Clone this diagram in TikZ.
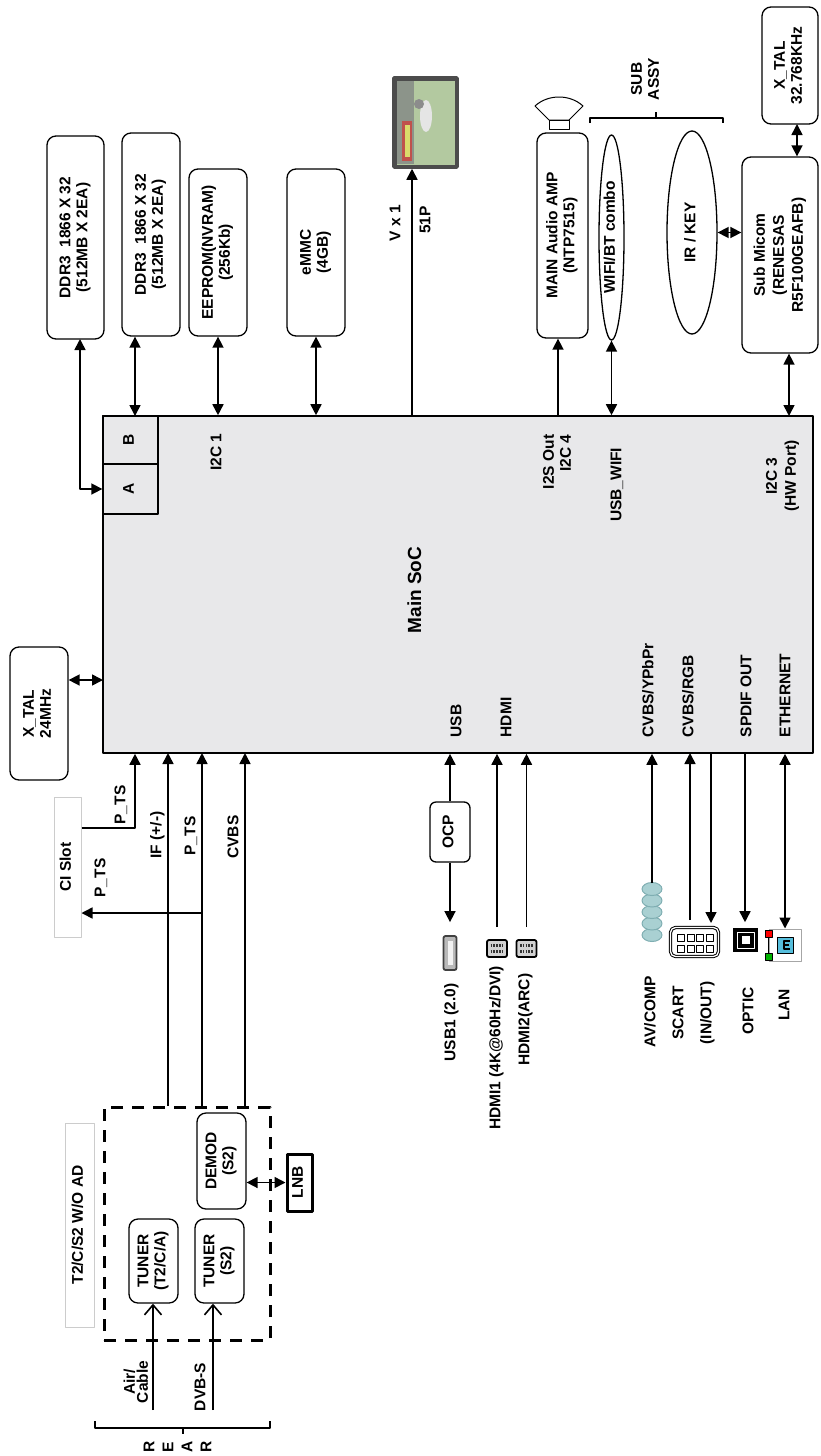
\documentclass[tikz,border=0pt]{standalone}
\usepackage{graphicx}
\usepackage{fontspec}
\setmainfont{Liberation Sans}
\usetikzlibrary{arrows.meta,shapes.geometric}
\definecolor{socgray}{HTML}{E8E8EA}
\definecolor{avfill}{HTML}{A9D0D2}
\definecolor{avedge}{HTML}{7FAEB2}
\definecolor{lanblue}{HTML}{56BEDC}
\definecolor{tvfield}{HTML}{B3C9A0}
\definecolor{tvstand}{HTML}{8C948A}
\newcommand\vtext[2][c]{\rotatebox{90}{\begin{tabular}{@{}#1@{}}#2\end{tabular}}}
\begin{document}
\begin{tikzpicture}[x=1pt,y=-1pt,line join=round,line width=1.6pt,
	font=\fontsize{15.5}{17}\selectfont\bfseries,
	>={Triangle[length=11pt,width=11pt]},
	wh/.style 2 args={minimum width=#1,minimum height=#2},
	blk/.style={draw,line width=1.3pt,rounded corners=9pt,inner sep=0pt},
	ovalbox/.style={draw,ellipse,line width=1.3pt,inner sep=0pt},
	pale/.style={draw=gray!40,line width=1pt,inner sep=0pt},
	lbl/.style={inner sep=0pt},
	barb/.style={-{Straight Barb[length=10pt,width=17pt]}}]
	\useasboundingbox (0,0) rectangle (820,1456);
	% main soc
	\node[draw,fill=socgray,line width=1.6pt,wh={710}{337},inner sep=0pt] (soc) at (458,584.5) {};
	\node[draw,fill=socgray,line width=1.3pt,wh={55}{48},inner sep=0pt] (boxB) at (130.5,440) {\vtext{B}};
	\node[draw,fill=socgray,line width=1.3pt,wh={55}{50},inner sep=0pt] (boxA) at (130.5,489) {\vtext{A}};
	\node[lbl,font=\fontsize{19}{21}\selectfont\bfseries] (socname) at (417,590) {\vtext{Main SoC}};
	\node[lbl,anchor=north] (i2c1) at (218,433) {\vtext{I2C 1}};
	\node[lbl,anchor=north] (i2s) at (559,434) {\vtext[r]{I2S Out\\I2C 4}};
	\node[lbl,anchor=north] (usbwifi) at (618,447) {\vtext{USB\_WIFI}};
	\node[lbl] (i2c3) at (783,476) {\vtext{I2C 3\\[2pt](HW Port)}};
	\node[lbl,anchor=south] (pusb) at (458,738) {\vtext{USB}};
	\node[lbl,anchor=south] (phdmi) at (508,738) {\vtext{HDMI}};
	\node[lbl,anchor=south] (pcvbsa) at (650,738) {\vtext{CVBS/YPbPr}};
	\node[lbl,anchor=south] (pcvbsb) at (690,738) {\vtext{CVBS/RGB}};
	\node[lbl,anchor=south] (pspdif) at (748,738) {\vtext{SPDIF OUT}};
	\node[lbl,anchor=south] (peth) at (787,738) {\vtext{ETHERNET}};
	% top side
	\node[blk,wh={57}{203}] (ddrA) at (75.5,237.5) {\vtext{DDR3\ \ 1866 X 32\\(512MB X 2EA)}};
	\node[blk,wh={58}{203}] (ddrB) at (151,234.5) {\vtext{DDR3\ \ 1866 X 32\\(512MB X 2EA)}};
	\node[blk,wh={58}{167}] (eeprom) at (218,252.5) {\vtext{EEPROM(NVRAM)\\(256Kb)}};
	\node[blk,wh={58}{167}] (emmc) at (316,252.5) {\vtext{eMMC\\(4GB)}};
	\node[draw=black!70,fill=tvfield,line width=3.5pt,wh={63}{89},inner sep=0pt] (tv) at (425.5,122.5) {};
	\fill[tvstand] (397,80) rectangle (414,164);
	\fill[white!80!gray] (426,116) ellipse [x radius=6pt,y radius=16pt];
	\fill[black!45] (419,104) circle [radius=5pt];
	\fill[red!45!tvstand] (402,121) rectangle (412,161);
	\fill[yellow!45!tvfield] (404.5,125) rectangle (409.5,157);
	\draw[black!70,line width=3.5pt] (394.75,78.75) rectangle (456.25,166.25);
	\node[blk,wh={51}{205}] (amp) at (562.5,235.5) {\vtext{MAIN Audio AMP\\(NTP7515)}};
	\node[ovalbox,wh={25}{205}] (wifi) at (611.5,237.5) {\vtext{WIFI/BT combo}};
	\node[ovalbox,wh={50}{203}] (irkey) at (692,232.5) {\vtext{IR / KEY}};
	\node[blk,wh={76}{196},font=\fontsize{15.5}{19}\selectfont\bfseries] (micom) at (780,255) {\vtext{Sub Micom\\(RENESAS\\R5F100GEAFB)}};
	\node[blk,wh={56}{117}] (xtalsub) at (790,65.5) {\vtext{X\_TAL\\32.768KHz}};
	\node[lbl] (lvx) at (397,223) {\vtext{V x 1}};
	\node[lbl] (l51p) at (427,220) {\vtext{51P}};
	\node[lbl] (lsub) at (647,79) {\vtext{SUB\\ASSY}};
	% speaker
	\draw[line width=1pt,fill=white] (549,120) -- (535,106) .. controls (548,94) and (570,94) .. (583,106) -- (569,120) -- cycle;
	\draw[line width=1pt] (549,120) rectangle (569,129);
	% sub assy bracket
	\draw[line width=1.2pt] (590,123) -- (590,118) -- (723,118) -- (723,123) (656,118) -- (656,112);
	% left side
	\node[blk,wh={58}{133}] (xtalm) at (39,713.5) {\vtext{X\_TAL\\24MHz}};
	\node[pale,wh={27}{140}] (cislot) at (67.5,867) {\vtext{CI Slot}};
	\node[draw,line width=3pt,dash pattern=on 12pt off 9pt,wh={166}{233},inner sep=0pt] (tunerpk) at (187,1223.5) {};
	\node[pale,wh={29}{204}] (t2lbl) at (79.5,1225) {\vtext{T2/C/S2 W/O AD}};
	\node[blk,wh={49}{84}] (tunerA) at (153.5,1261) {\vtext{TUNER\\(T2/C/A)}};
	\node[blk,wh={49}{84}] (tunerB) at (219.5,1261) {\vtext{TUNER\\(S2)}};
	\node[blk,wh={49}{96}] (demod) at (221.5,1161) {\vtext{DEMOD\\(S2)}};
	\node[draw,line width=3pt,wh={25}{57},inner sep=0pt] (lnb) at (299.5,1182.5) {\vtext{LNB}};
	\node[lbl] (lptsA) at (122,805) {\vtext{P\_TS}};
	\node[lbl] (lif) at (158,835) {\vtext{IF (+/-)}};
	\node[lbl] (lptsB) at (192,836) {\vtext{P\_TS}};
	\node[lbl] (lcvbs) at (235,837) {\vtext{CVBS}};
	\node[lbl] (lptsC) at (102,878) {\vtext{P\_TS}};
	\node[lbl] (lair) at (138,1382) {\vtext{Air/\\[-4pt]Cable}};
	\node[lbl] (ldvbs) at (202,1387) {\vtext{DVB-S}};
	% rear bracket
	\draw[line width=1.2pt] (95,1421) -- (95,1428) -- (270,1428) -- (270,1421) (183,1428) -- (183,1434);
	\foreach \c [count=\k] in {R,E,A,R}
	\node[lbl] (rear\k) at (132+19*\k,1447) {\vtext{\c}};
	% bottom side
	\node[blk,rounded corners=6pt,wh={40}{60}] (ocp) at (450,832) {\vtext{OCP}};
	\node[draw=black!75,fill=gray!55,line width=1.8pt,rounded corners=2pt,wh={13}{34},inner sep=0pt] (usbport) at (450,953) {};
	\fill[gray!10] (447.5,941) rectangle (452.5,965);
	\node[draw,fill=gray!35,line width=1.8pt,rounded corners=2pt,wh={20}{17},inner sep=0pt] (hdmiA) at (497,948.5) {};
	\node[draw,fill=gray!35,line width=1.8pt,rounded corners=2pt,wh={20}{17},inner sep=0pt] (hdmiB) at (526.5,948.5) {};
	\foreach \x in {497,526.5}
	\draw[black!80,line width=2.2pt,dash pattern=on 1.6pt off 1.2pt] (\x-6.5,945.5) -- (\x+6.5,945.5) (\x-6.5,951.5) -- (\x+6.5,951.5);
	\foreach \k in {4,3,2,1,0}
	\draw[draw=avedge,fill=avfill,line width=1pt] (652,889+11.5*\k) ellipse [x radius=10pt,y radius=6.5pt];
	\coordinate (avjack) at (652,883);
	\node[draw,line width=1pt,rounded corners=5pt,double,double distance=1.3pt,wh={48}{29},inner sep=0pt] (scart) at (694.5,942) {};
	\foreach \i in {0,...,3}
	\foreach \j in {0,1}
	\draw[line width=0.9pt] (677.5+9.5*\i,934+11*\j) rectangle ++(7,7);
	\node[fill=black,wh={25}{24},inner sep=0pt] (optic) at (745.5,940) {};
	\draw[white,line width=0.8pt] (737,932) rectangle (754,948);
	\fill[white] (741.5,936) rectangle (749.5,944);
	\node[draw=gray!70,fill=white,line width=1pt,wh={32}{32},inner sep=0pt] (lan) at (785,945) {};
	\draw[line width=1pt,fill=lanblue] (777,937) rectangle (793,953);
	\draw[line width=1.5pt] (790,941) -- (784,941) -- (784,949) -- (790,949) (784,945) -- (789,945);
	\draw[line width=1pt] (768.5,937) -- (768.5,953);
	\draw[line width=0.6pt,fill=red] (765,930) rectangle (772,937);
	\draw[line width=0.6pt,fill=green!70!black] (765,953) rectangle (772,960);
	\node[lbl,anchor=north] (lusb1) at (452,983) {\vtext{USB1 (2.0)}};
	\node[lbl,anchor=north] (lhdmi1) at (497,965) {\vtext{HDMI1 (4K@60Hz/DVI)}};
	\node[lbl,anchor=north] (lhdmi2) at (526,973) {\vtext{HDMI2(ARC)}};
	\node[lbl] (lav) at (652,1012) {\vtext{AV/COMP}};
	\node[lbl] (lscart) at (694,1013) {\vtext{SCART\\[11pt](IN/OUT)}};
	\node[lbl] (loptic) at (750,1011) {\vtext{OPTIC}};
	\node[lbl] (llan) at (786,1005) {\vtext{LAN}};
	% ports
	\coordinate (dap) at (80,339);
	\coordinate (ddrp) at (135,416);
	\coordinate (tvp) at (412,416);
	\coordinate (ampp) at (558,416);
	\coordinate (i2c3p) at (789,416);
	\coordinate (xtp) at (797,124);
	\coordinate (xtm) at (103,680);
	\coordinate (cib) at (135,828);
	\coordinate (ifp) at (168,753);
	\coordinate (tsp) at (202,753);
	\coordinate (tsb) at (202,913);
	\coordinate (cvp) at (245,753);
	\coordinate (aircable) at (153,1410);
	\coordinate (dvbs) at (213,1410);
	\coordinate (scin) at (690,753);
	\coordinate (scout) at (711,753);
	\coordinate (optp) at (745,753);
	% connectors
	\draw[<->] (dap) |- (boxA.west);
	\draw[<->] (ddrp) -- (ddrp |- ddrB.south);
	\draw[<->] (eeprom.south) -- (eeprom.south |- soc.north);
	\draw[<->] (emmc.south) -- (emmc.south |- soc.north);
	\draw[->] (tvp) -- (tvp |- tv.south);
	\draw[->] (ampp) -- (ampp |- amp.south);
	\draw[<->] (wifi.south) -- (wifi.south |- soc.north);
	\draw[<->] (irkey.east) -- (irkey.east -| micom.west);
	\draw[<->] (xtp) -- (xtp |- micom.north);
	\draw[<->] (i2c3p) -- (i2c3p |- micom.south);
	\draw[<->] (xtm -| xtalm.east) -- (xtm);
	\draw[->] (cib -| cislot.east) -- (cib) -- (cib |- soc.south);
	\draw[->] (ifp |- tunerpk.north) -- (ifp);
	\draw[->] (tsp |- tunerpk.north) -- (tsp);
	\draw[->] (tsb) -- (tsb -| cislot.east);
	\draw[->] (cvp |- tunerpk.north) -- (cvp);
	\draw[<->] (lnb.west -| demod.east) -- (lnb.west);
	\draw[barb] (aircable) -- (aircable |- tunerA.south);
	\draw[barb] (dvbs) -- (dvbs |- tunerB.south);
	\draw[->] (ocp.north) -- (ocp.north |- soc.south);
	\draw[->,shorten >=13pt] (ocp.south) -- (usbport.north);
	\draw[->,shorten <=12pt] (hdmiA.north) -- (hdmiA.north |- soc.south);
	\draw[->,shorten <=12pt] (hdmiB.north) -- (hdmiB.north |- soc.south);
	\draw[->] (avjack) -- (avjack |- soc.south);
	\draw[->,shorten <=7pt] (scin |- scart.north) -- (scin);
	\draw[->,shorten >=4pt] (scout) -- (scout |- scart.north);
	\draw[->,shorten >=5pt] (optp) -- (optp |- optic.north);
	\draw[<->] (lan.north) -- (lan.north |- soc.south);
\end{tikzpicture}
\end{document}
